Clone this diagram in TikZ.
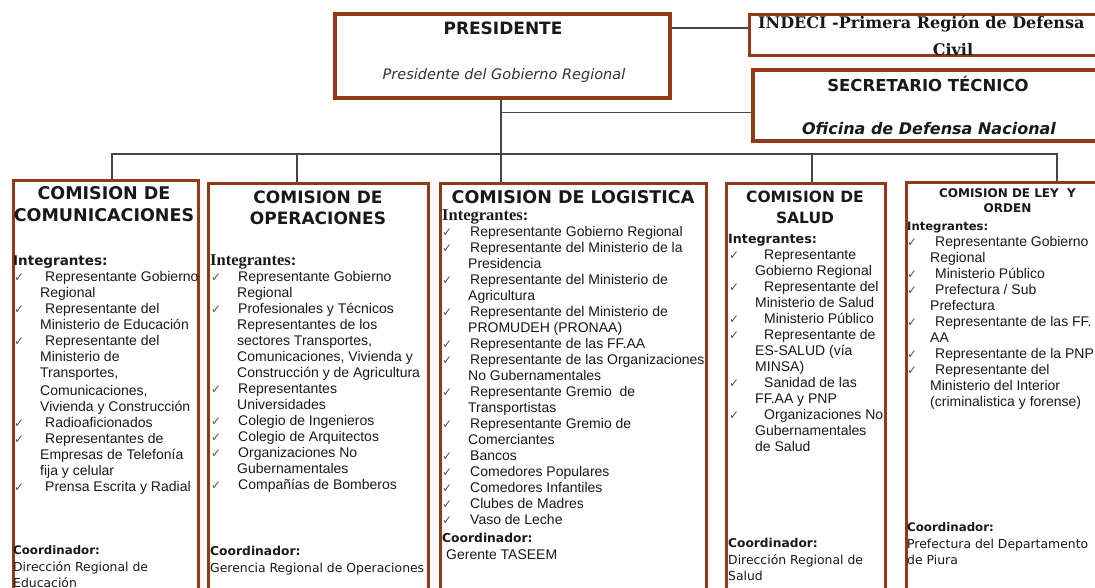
\documentclass[tikz,border=0pt]{standalone}
\usepackage{fontspec}
\setmainfont{Liberation Sans}
\newfontfamily\dvs{DejaVu Sans}
\newfontfamily\dvserif{DejaVu Serif}
\newfontfamily\lserif{Liberation Serif}
\newfontfamily\arf{Liberation Sans}
\newlength\ckw \newlength\cnw \newlength\ckoff
\definecolor{brn}{RGB}{146,58,22}
\definecolor{ln}{RGB}{70,70,70}
\definecolor{txt}{RGB}{25,25,25}
\definecolor{txtg}{RGB}{50,50,50}
\definecolor{chk}{RGB}{80,80,80}
\newcommand\ckmark{\makebox[\ckw][l]{\hspace*{\ckoff}\textcolor{chk}{\dvs\fontsize{12}{16}\selectfont ✓}}}
\newcommand\itm[1]{\strut\ckmark#1}
\newcommand\cnt[1]{\strut\hspace*{\cnw}#1}
\newcommand\intS[1]{{\dvs\bfseries\fontsize{#1}{16}\selectfont Integrantes:}}
\newcommand\intR[1]{{\lserif\bfseries\fontsize{#1}{16}\selectfont Integrantes:}}
\newcommand\crdh[1]{{\dvs\bfseries\fontsize{#1}{16}\selectfont Coordinador:}}
\tikzset{
  cbox/.style={draw=brn, line width=3pt, inner sep=0pt, anchor=center},
  conn/.style={draw=ln, line width=1.2pt},
  lst/.style={anchor=north west, inner sep=0pt, align=left, text=txt, font=\arf\fontsize{14}{16}\selectfont},
  crd/.style={anchor=north west, inner sep=0pt, align=left, text=txt, font=\dvs\fontsize{12.4}{16.5}\selectfont},
  hd/.style={inner sep=0pt, align=center, text=txt}
}
\begin{document}
\begin{tikzpicture}[x=1pt,y=-1pt]
\useasboundingbox (0,0) rectangle (1095,587);
\fill[white] (0,0) rectangle (1095,587);
\clip (0,0) rectangle (1095,587);

% boxes
\node[cbox, line width=4pt, minimum width=335.5pt, minimum height=84pt] (pres) at (502.25,56) {};
\node[cbox, line width=2.5pt, minimum width=407.5pt, minimum height=41pt] (ind) at (953.25,35) {};
\node[cbox, line width=3.5pt, minimum width=351pt, minimum height=71pt] (sec) at (928.5,105.5) {};
\node[cbox, minimum width=185pt, minimum height=440pt] (com) at (106,400) {};
\node[cbox, minimum width=220pt, minimum height=436.5pt] (ope) at (318.5,401.75) {};
\node[cbox, minimum width=266.5pt, minimum height=436.5pt] (log) at (573.25,401.75) {};
\node[cbox, minimum width=158.5pt, minimum height=437pt] (sal) at (805.75,401.5) {};
\node[cbox, minimum width=203.5pt, minimum height=438pt] (ley) at (1008.25,401) {};

% connectors
\coordinate (i) at (670,28);
\coordinate (j) at (501,154);
\coordinate (s) at (501,112.7);
\coordinate (bL) at (112,154);
\coordinate (bO) at (297,154);
\coordinate (bS) at (812,154);
\coordinate (bR) at (1057,154);
\draw[conn] (i -| pres.east) -- (i -| ind.west);
\draw[conn] (j |- pres.south) -- (j) -- (j |- log.north);
\draw[conn] (s) -- (s -| sec.west);
\draw[conn] (bL |- com.north) -- (bL) -- (bR) -- (bR |- ley.north);
\draw[conn] (bO) -- (bO |- ope.north);
\draw[conn] (bS) -- (bS |- sal.north);

% top texts
\node[hd, font=\dvs\bfseries\fontsize{17}{20}\selectfont] (presT) at (503,28) {PRESIDENTE};
\node[hd, text=txtg, font=\dvs\itshape\fontsize{14.5}{18}\selectfont] (presS) at (504,75) {Presidente del Gobierno Regional};
\node[inner sep=0pt, anchor=base west, text=txt, font=\dvserif\bfseries\fontsize{16}{26}\selectfont] (indT) at (758,28.5) {INDECI -Primera Región de Defensa};
\node[inner sep=0pt, anchor=base, text=txt, font=\dvserif\bfseries\fontsize{16}{26}\selectfont] (indC) at (953,55) {Civil};
\node[hd, font=\dvs\bfseries\fontsize{16.5}{20}\selectfont] (secT) at (928,84) {SECRETARIO TÉCNICO};
\node[hd, font=\dvs\bfseries\itshape\fontsize{16}{20}\selectfont] (secS) at (929,128.5) {Oficina de Defensa Nacional};

% headings
\node[hd, font=\dvs\bfseries\fontsize{17.5}{22}\selectfont] (comH) at (104,204) {COMISION DE\\COMUNICACIONES};
\node[hd, font=\dvs\bfseries\fontsize{17}{21}\selectfont] (opeH) at (318,207.5) {COMISION DE\\OPERACIONES};
\node[hd, font=\dvs\bfseries\fontsize{17.5}{22}\selectfont] (logH) at (573,197) {COMISION DE LOGISTICA};
\node[hd, font=\dvs\bfseries\fontsize{15.5}{20.5}\selectfont] (salH) at (805,207.5) {COMISION DE\\SALUD};
\node[hd, font=\dvs\bfseries\fontsize{12}{15.5}\selectfont] (leyH) at (1007.5,200.5) {COMISION DE LEY\ \ Y\\ORDEN};

% lists
\setlength\ckw{32pt}\setlength\cnw{27pt}\setlength\ckoff{1pt}
\node[lst] (comL) at (13,253.8) {\strut\intS{13.5}\\
\itm{Representante Gobierno}\\ \cnt{Regional}\\ \itm{Representante del}\\ \cnt{Ministerio de Educación}\\
\itm{Representante del}\\ \cnt{Ministerio de}\\ \cnt{Transportes,}\\[2pt] \cnt{Comunicaciones,}\\ \cnt{Vivienda y Construcción}\\
\itm{Radioaficionados}\\ \itm{Representantes de}\\ \cnt{Empresas de Telefonía}\\ \cnt{fija y celular}\\ \itm{Prensa Escrita y Radial}};

\setlength\ckw{28pt}\setlength\cnw{27pt}\setlength\ckoff{1pt}
\node[lst] (opeL) at (210,253.8) {\strut\intR{16.5}\\
\itm{Representante Gobierno}\\ \cnt{Regional}\\ \itm{Profesionales y Técnicos}\\ \cnt{Representantes de los}\\
\cnt{sectores Transportes,}\\ \cnt{Comunicaciones, Vivienda y}\\ \cnt{Construcción y de Agricultura}\\
\itm{Representantes}\\ \cnt{Universidades}\\ \itm{Colegio de Ingenieros}\\ \itm{Colegio de Arquitectos}\\
\itm{Organizaciones No}\\ \cnt{Gubernamentales}\\ \itm{Compañías de Bomberos}};

\setlength\ckw{28pt}\setlength\cnw{26pt}\setlength\ckoff{0pt}
\node[lst] (logL) at (442,208.8) {\strut\intR{16.5}\\
\itm{Representante Gobierno Regional}\\ \itm{Representante del Ministerio de la}\\ \cnt{Presidencia}\\
\itm{Representante del Ministerio de}\\ \cnt{Agricultura}\\ \itm{Representante del Ministerio de}\\ \cnt{PROMUDEH (PRONAA)}\\
\itm{Representante de las FF.AA}\\ \itm{Representante de las Organizaciones}\\ \cnt{No Gubernamentales}\\
\itm{Representante Gremio\ \ de}\\ \cnt{Transportistas}\\ \itm{Representante Gremio de}\\ \cnt{Comerciantes}\\
\itm{Bancos}\\ \itm{Comedores Populares}\\ \itm{Comedores Infantiles}\\ \itm{Clubes de Madres}\\ \itm{Vaso de Leche}};

\setlength\ckw{36pt}\setlength\cnw{27pt}\setlength\ckoff{1pt}
\node[lst] (salL) at (728,231.8) {\strut\intS{12.7}\\
\itm{Representante}\\ \cnt{Gobierno Regional}\\ \itm{Representante del}\\ \cnt{Ministerio de Salud}\\
\itm{Ministerio Público}\\ \itm{Representante de}\\ \cnt{ES-SALUD (vía}\\ \cnt{MINSA)}\\
\itm{Sanidad de las}\\ \cnt{FF.AA y PNP}\\ \itm{Organizaciones No}\\ \cnt{Gubernamentales}\\ \cnt{de Salud}};

\setlength\ckw{28pt}\setlength\cnw{23pt}\setlength\ckoff{0pt}
\node[lst] (leyL) at (907,218.8) {\strut\intS{11.6}\\
\itm{Representante Gobierno}\\ \cnt{Regional}\\ \itm{Ministerio Público}\\ \itm{Prefectura / Sub}\\ \cnt{Prefectura}\\
\itm{Representante de las FF.}\\ \cnt{AA}\\ \itm{Representante de la PNP}\\ \itm{Representante del}\\
\cnt{Ministerio del Interior}\\ \cnt{(criminalistica y forense)}};

% coordinators
\node[crd] (comC) at (13,542.75) {\strut\crdh{11.8}\\ \strut Dirección Regional de\\ \strut Educación};
\node[crd] (opeC) at (210,543.75) {\strut\crdh{12.3}\\ \strut Gerencia Regional de Operaciones};
\node[crd] (logC) at (442,530.75) {\strut\crdh{12.3}\\ \strut\hspace*{4pt}{\arf\fontsize{14}{16}\selectfont Gerente TASEEM}};
\node[crd] (salC) at (728,535.75) {\strut\crdh{12.2}\\ \strut Dirección Regional de\\ \strut Salud};
\node[crd] (leyC) at (907,519.75) {\strut\crdh{11.8}\\ \strut Prefectura del Departamento\\ \strut de Piura};
\end{tikzpicture}
\end{document}
